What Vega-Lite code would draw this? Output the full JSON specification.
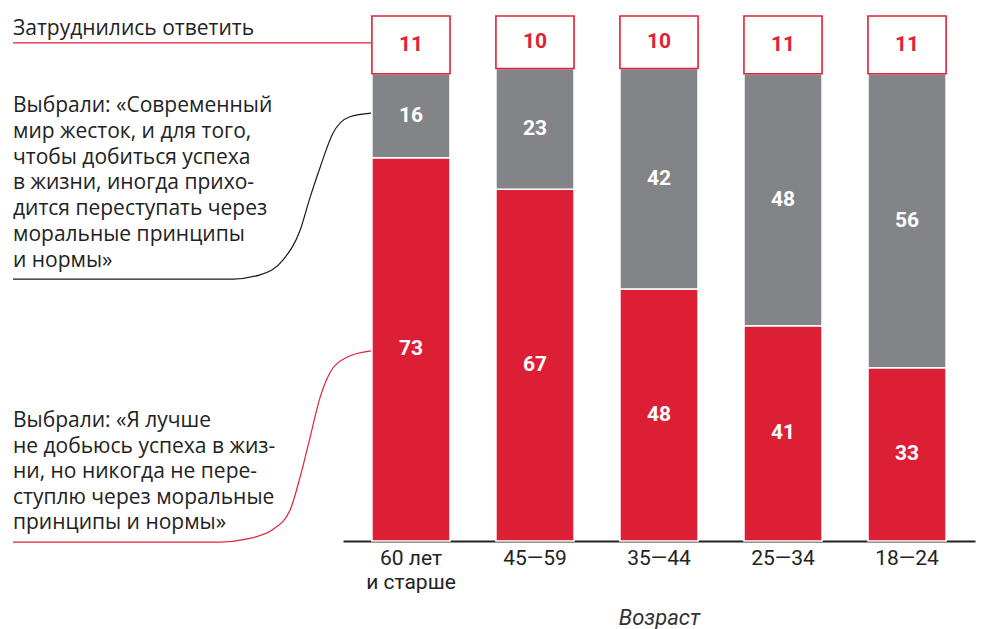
{
  "$schema": "https://vega.github.io/schema/vega-lite/v6.json",
  "width": 975,
  "height": 525,
  "autosize": {"type": "none"},
  "padding": {"left": 0, "top": 16, "right": 8, "bottom": 88},
  "background": "white",
  "config": {"view": {"stroke": null}, "font": "Open Sans"},
  "datasets": {
    "bars": [
      {"age": "60 лет|и старше", "series": "Я лучше не добьюсь успеха", "ord": 1, "value": 73},
      {"age": "60 лет|и старше", "series": "Современный мир жесток", "ord": 2, "value": 16},
      {"age": "60 лет|и старше", "series": "Затруднились ответить", "ord": 3, "value": 11},
      {"age": "45—59", "series": "Я лучше не добьюсь успеха", "ord": 1, "value": 67},
      {"age": "45—59", "series": "Современный мир жесток", "ord": 2, "value": 23},
      {"age": "45—59", "series": "Затруднились ответить", "ord": 3, "value": 10},
      {"age": "35—44", "series": "Я лучше не добьюсь успеха", "ord": 1, "value": 48},
      {"age": "35—44", "series": "Современный мир жесток", "ord": 2, "value": 42},
      {"age": "35—44", "series": "Затруднились ответить", "ord": 3, "value": 10},
      {"age": "25—34", "series": "Я лучше не добьюсь успеха", "ord": 1, "value": 41},
      {"age": "25—34", "series": "Современный мир жесток", "ord": 2, "value": 48},
      {"age": "25—34", "series": "Затруднились ответить", "ord": 3, "value": 11},
      {"age": "18—24", "series": "Я лучше не добьюсь успеха", "ord": 1, "value": 33},
      {"age": "18—24", "series": "Современный мир жесток", "ord": 2, "value": 56},
      {"age": "18—24", "series": "Затруднились ответить", "ord": 3, "value": 11}
    ],
    "blackLink": [
      {"t": 0, "v": 49.9}, {"t": 0.615, "v": 49.9}, {"t": 0.69, "v": 50.7},
      {"t": 0.754, "v": 53.5}, {"t": 0.802, "v": 59.2}, {"t": 0.83, "v": 65.5},
      {"t": 0.858, "v": 71.2}, {"t": 0.894, "v": 77.7}, {"t": 0.941, "v": 80.8},
      {"t": 1, "v": 81.5}
    ],
    "redLink": [
      {"g": "top", "t": 0, "v": 94.9}, {"g": "top", "t": 1, "v": 94.9},
      {"g": "bottom", "t": 0, "v": -0.2}, {"g": "bottom", "t": 0.578, "v": -0.2},
      {"g": "bottom", "t": 0.654, "v": 0.4}, {"g": "bottom", "t": 0.726, "v": 2.2},
      {"g": "bottom", "t": 0.774, "v": 5.9}, {"g": "bottom", "t": 0.802, "v": 12.2},
      {"g": "bottom", "t": 0.83, "v": 19.8}, {"g": "bottom", "t": 0.858, "v": 27.4},
      {"g": "bottom", "t": 0.885, "v": 32.0}, {"g": "bottom", "t": 0.933, "v": 35.0},
      {"g": "bottom", "t": 1, "v": 36.2}
    ]
  },
  "layer": [
    {
      "data": {"name": "bars"},
      "encoding": {
        "x": {
          "field": "age", "type": "nominal",
          "sort": ["60 лет|и старше", "45—59", "35—44", "25—34", "18—24"],
          "scale": {"range": [343, 975], "paddingInner": 0.37, "paddingOuter": 0.233},
          "axis": {
            "title": "Возраст", "titleFontStyle": "italic", "titleFontWeight": "normal",
            "titleFontSize": 22, "titleColor": "#333333", "titleFont": "Roboto", "titlePadding": 15,
            "labelAngle": 0, "labelFontSize": 21, "labelColor": "#222222", "labelFont": "Roboto",
            "labelLineHeight": 24, "labelPadding": 6, "ticks": false,
            "domainColor": "#222222", "domainWidth": 2,
            "labelExpr": "split(datum.label, '|')"
          }
        },
        "y": {"field": "value", "type": "quantitative", "stack": "zero", "scale": {"domain": [0, 100]}, "axis": null},
        "order": {"field": "ord", "type": "quantitative"}
      },
      "layer": [
        {
          "mark": {"type": "bar", "strokeWidth": 1.6},
          "encoding": {
            "color": {
              "field": "series", "type": "nominal", "legend": null,
              "scale": {"domain": ["Я лучше не добьюсь успеха", "Современный мир жесток", "Затруднились ответить"], "range": ["#DD1F36", "#838488", "#FFFFFF"]}
            },
            "stroke": {
              "field": "series", "type": "nominal", "legend": null,
              "scale": {"domain": ["Я лучше не добьюсь успеха", "Современный мир жесток", "Затруднились ответить"], "range": ["#FFFFFF", "#FFFFFF", "#DF2238"]}
            }
          }
        },
        {
          "mark": {"type": "text", "font": "Roboto", "fontWeight": "bold", "fontSize": 21, "baseline": "middle", "align": "center"},
          "encoding": {
            "y": {"field": "value", "type": "quantitative", "stack": "zero", "bandPosition": 0.5},
            "detail": {"field": "series"},
            "text": {"field": "value", "type": "quantitative"},
            "color": {"condition": {"test": "datum.ord === 3", "value": "#DF2238"}, "value": "#FFFFFF"}
          }
        }
      ]
    },
    {
      "data": {"name": "blackLink"},
      "mark": {"type": "line", "interpolate": "monotone", "stroke": "#1a1a1a", "strokeWidth": 1.2},
      "encoding": {
        "x": {"field": "t", "type": "quantitative", "scale": {"domain": [0, 1], "range": [13, 371]}, "axis": null},
        "y": {"field": "v", "type": "quantitative"}
      }
    },
    {
      "data": {"name": "redLink"},
      "mark": {"type": "line", "interpolate": "monotone", "stroke": "#DF2238", "strokeWidth": 1.2},
      "encoding": {
        "x": {"field": "t", "type": "quantitative", "scale": {"domain": [0, 1], "range": [13, 371]}, "axis": null},
        "y": {"field": "v", "type": "quantitative"},
        "detail": {"field": "g"}
      }
    },
    {
      "data": {"values": [{"lines": ["Затруднились ответить"]}]},
      "mark": {"type": "text", "align": "left", "baseline": "alphabetic", "fontSize": 21, "color": "#222222", "x": 13, "y": 19, "lineHeight": 25.8},
      "encoding": {"text": {"field": "lines"}}
    },
    {
      "data": {"values": [{"lines": ["Выбрали: «Современный", "мир жесток, и для того,", "чтобы добиться успеха", "в жизни, иногда прихо-", "дится переступать через", "моральные принципы", "и нормы»"]}]},
      "mark": {"type": "text", "align": "left", "baseline": "alphabetic", "fontSize": 21, "color": "#222222", "x": 13, "y": 96, "lineHeight": 25.8},
      "encoding": {"text": {"field": "lines"}}
    },
    {
      "data": {"values": [{"lines": ["Выбрали: «Я лучше", "не добьюсь успеха в жиз-", "ни, но никогда не пере-", "ступлю через моральные", "принципы и нормы»"]}]},
      "mark": {"type": "text", "align": "left", "baseline": "alphabetic", "fontSize": 21, "color": "#222222", "x": 13, "y": 411, "lineHeight": 25.5},
      "encoding": {"text": {"field": "lines"}}
    }
  ],
  "resolve": {"scale": {"x": "independent"}}
}
